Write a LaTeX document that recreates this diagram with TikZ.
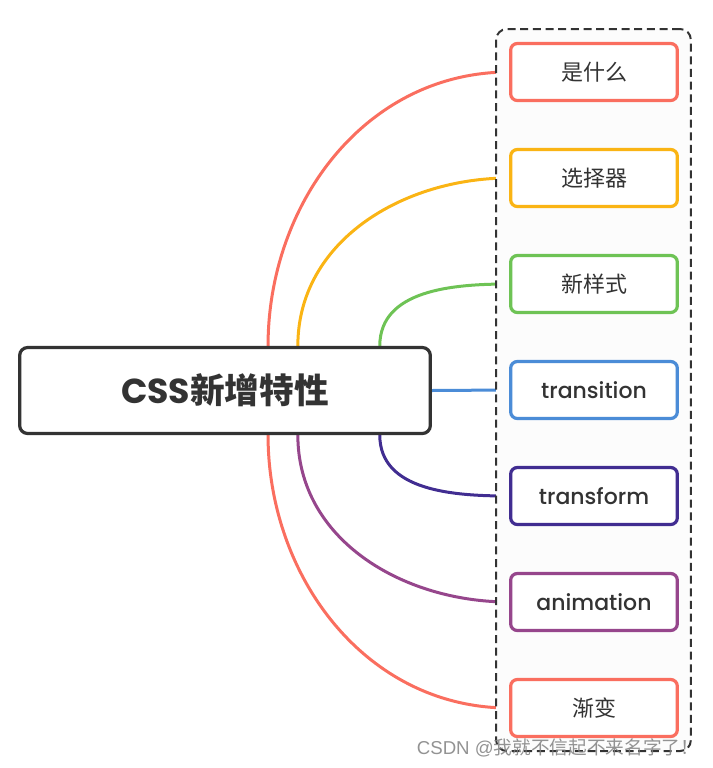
\documentclass[tikz,border=0pt]{standalone}
\usepackage{fontspec}
\setmainfont{Poppins}
\newfontfamily\medfont{Poppins Medium}
\newfontfamily\cjk{Noto Sans CJK SC}
\newfontfamily\markfont{Liberation Sans}
\usetikzlibrary{calc}
\pgfdeclarelayer{back}
\pgfdeclarelayer{mid}
\pgfsetlayers{back,mid,main}
\definecolor{cred}{RGB}{250,110,95}
\definecolor{corange}{RGB}{250,180,20}
\definecolor{cgreen}{RGB}{110,195,85}
\definecolor{cblue}{RGB}{75,140,215}
\definecolor{cindigo}{RGB}{65,45,145}
\definecolor{cpurple}{RGB}{150,70,140}
\definecolor{cdark}{RGB}{51,51,51}
\tikzstyle{root} = [rectangle, draw=cdark, line width=2.4pt, rounded corners=6pt, fill=white, minimum width=308pt, minimum height=64.5pt, text=cdark, font=\fontsize{26}{30}\selectfont\bfseries]
\tikzstyle{leaf} = [rectangle, line width=2.4pt, rounded corners=5pt, fill=white, minimum width=125pt, minimum height=42.75pt, text=cdark, font=\fontsize{16.5}{19}\selectfont\medfont]
\tikzstyle{branch} = [line width=2.25pt]
\tikzstyle{frame} = [rectangle, draw=cdark, line width=1.5pt, dash pattern=on 6pt off 3.5pt, rounded corners=8pt, fill=black!1, minimum width=146pt, minimum height=541.5pt]

\begin{document}
\begin{tikzpicture}[x=0.75pt, y=-0.75pt]

        \useasboundingbox (0,0) rectangle (713,768);

        \node (root) [root] at (225,390.5) {CSS{\cjk 新增特性}};

        %% leaves

        \node (what) [leaf, draw=cred] at (594,72) {\cjk 是什么};
        \node (select) [leaf, draw=corange] at (594,178) {\cjk 选择器};
        \node (style) [leaf, draw=cgreen] at (594,284) {\cjk 新样式};
        \node (trans) [leaf, draw=cblue] at (594,390) {transition};
        \node (form) [leaf, draw=cindigo] at (594,496) {transform};
        \node (anim) [leaf, draw=cpurple] at (594,602) {animation};
        \node (grad) [leaf, draw=cred] at (594,708) {\cjk 渐变};

        \begin{pgfonlayer}{mid}
        \node (box) [frame] at (593.5,390) {};
        \end{pgfonlayer}

        %% branches

        \begin{pgfonlayer}{back}
        \draw[branch, cred] ($(root.north west)!0.604!(root.north east)$) to[out=90, in=180] (what.west);
        \draw[branch, corange] ($(root.north west)!0.676!(root.north east)$) to[out=90, in=180] (select.west);
        \draw[branch, cgreen] ($(root.north west)!0.874!(root.north east)$) to[out=90, in=180] (style.west);
        \draw[branch, cblue] (root.east) -- (trans.west);
        \draw[branch, cindigo] ($(root.south west)!0.874!(root.south east)$) to[out=-90, in=180] (form.west);
        \draw[branch, cpurple] ($(root.south west)!0.676!(root.south east)$) to[out=-90, in=180] (anim.west);
        \draw[branch, cred] ($(root.south west)!0.604!(root.south east)$) to[out=-90, in=180] (grad.west);
        \end{pgfonlayer}

        \node (mark) [text=gray, opacity=0.85, font=\fontsize{14}{16}\selectfont] at (558,748) {\markfont CSDN @{\cjk 我就不信起不来名字了！}};

\end{tikzpicture}
\end{document}
